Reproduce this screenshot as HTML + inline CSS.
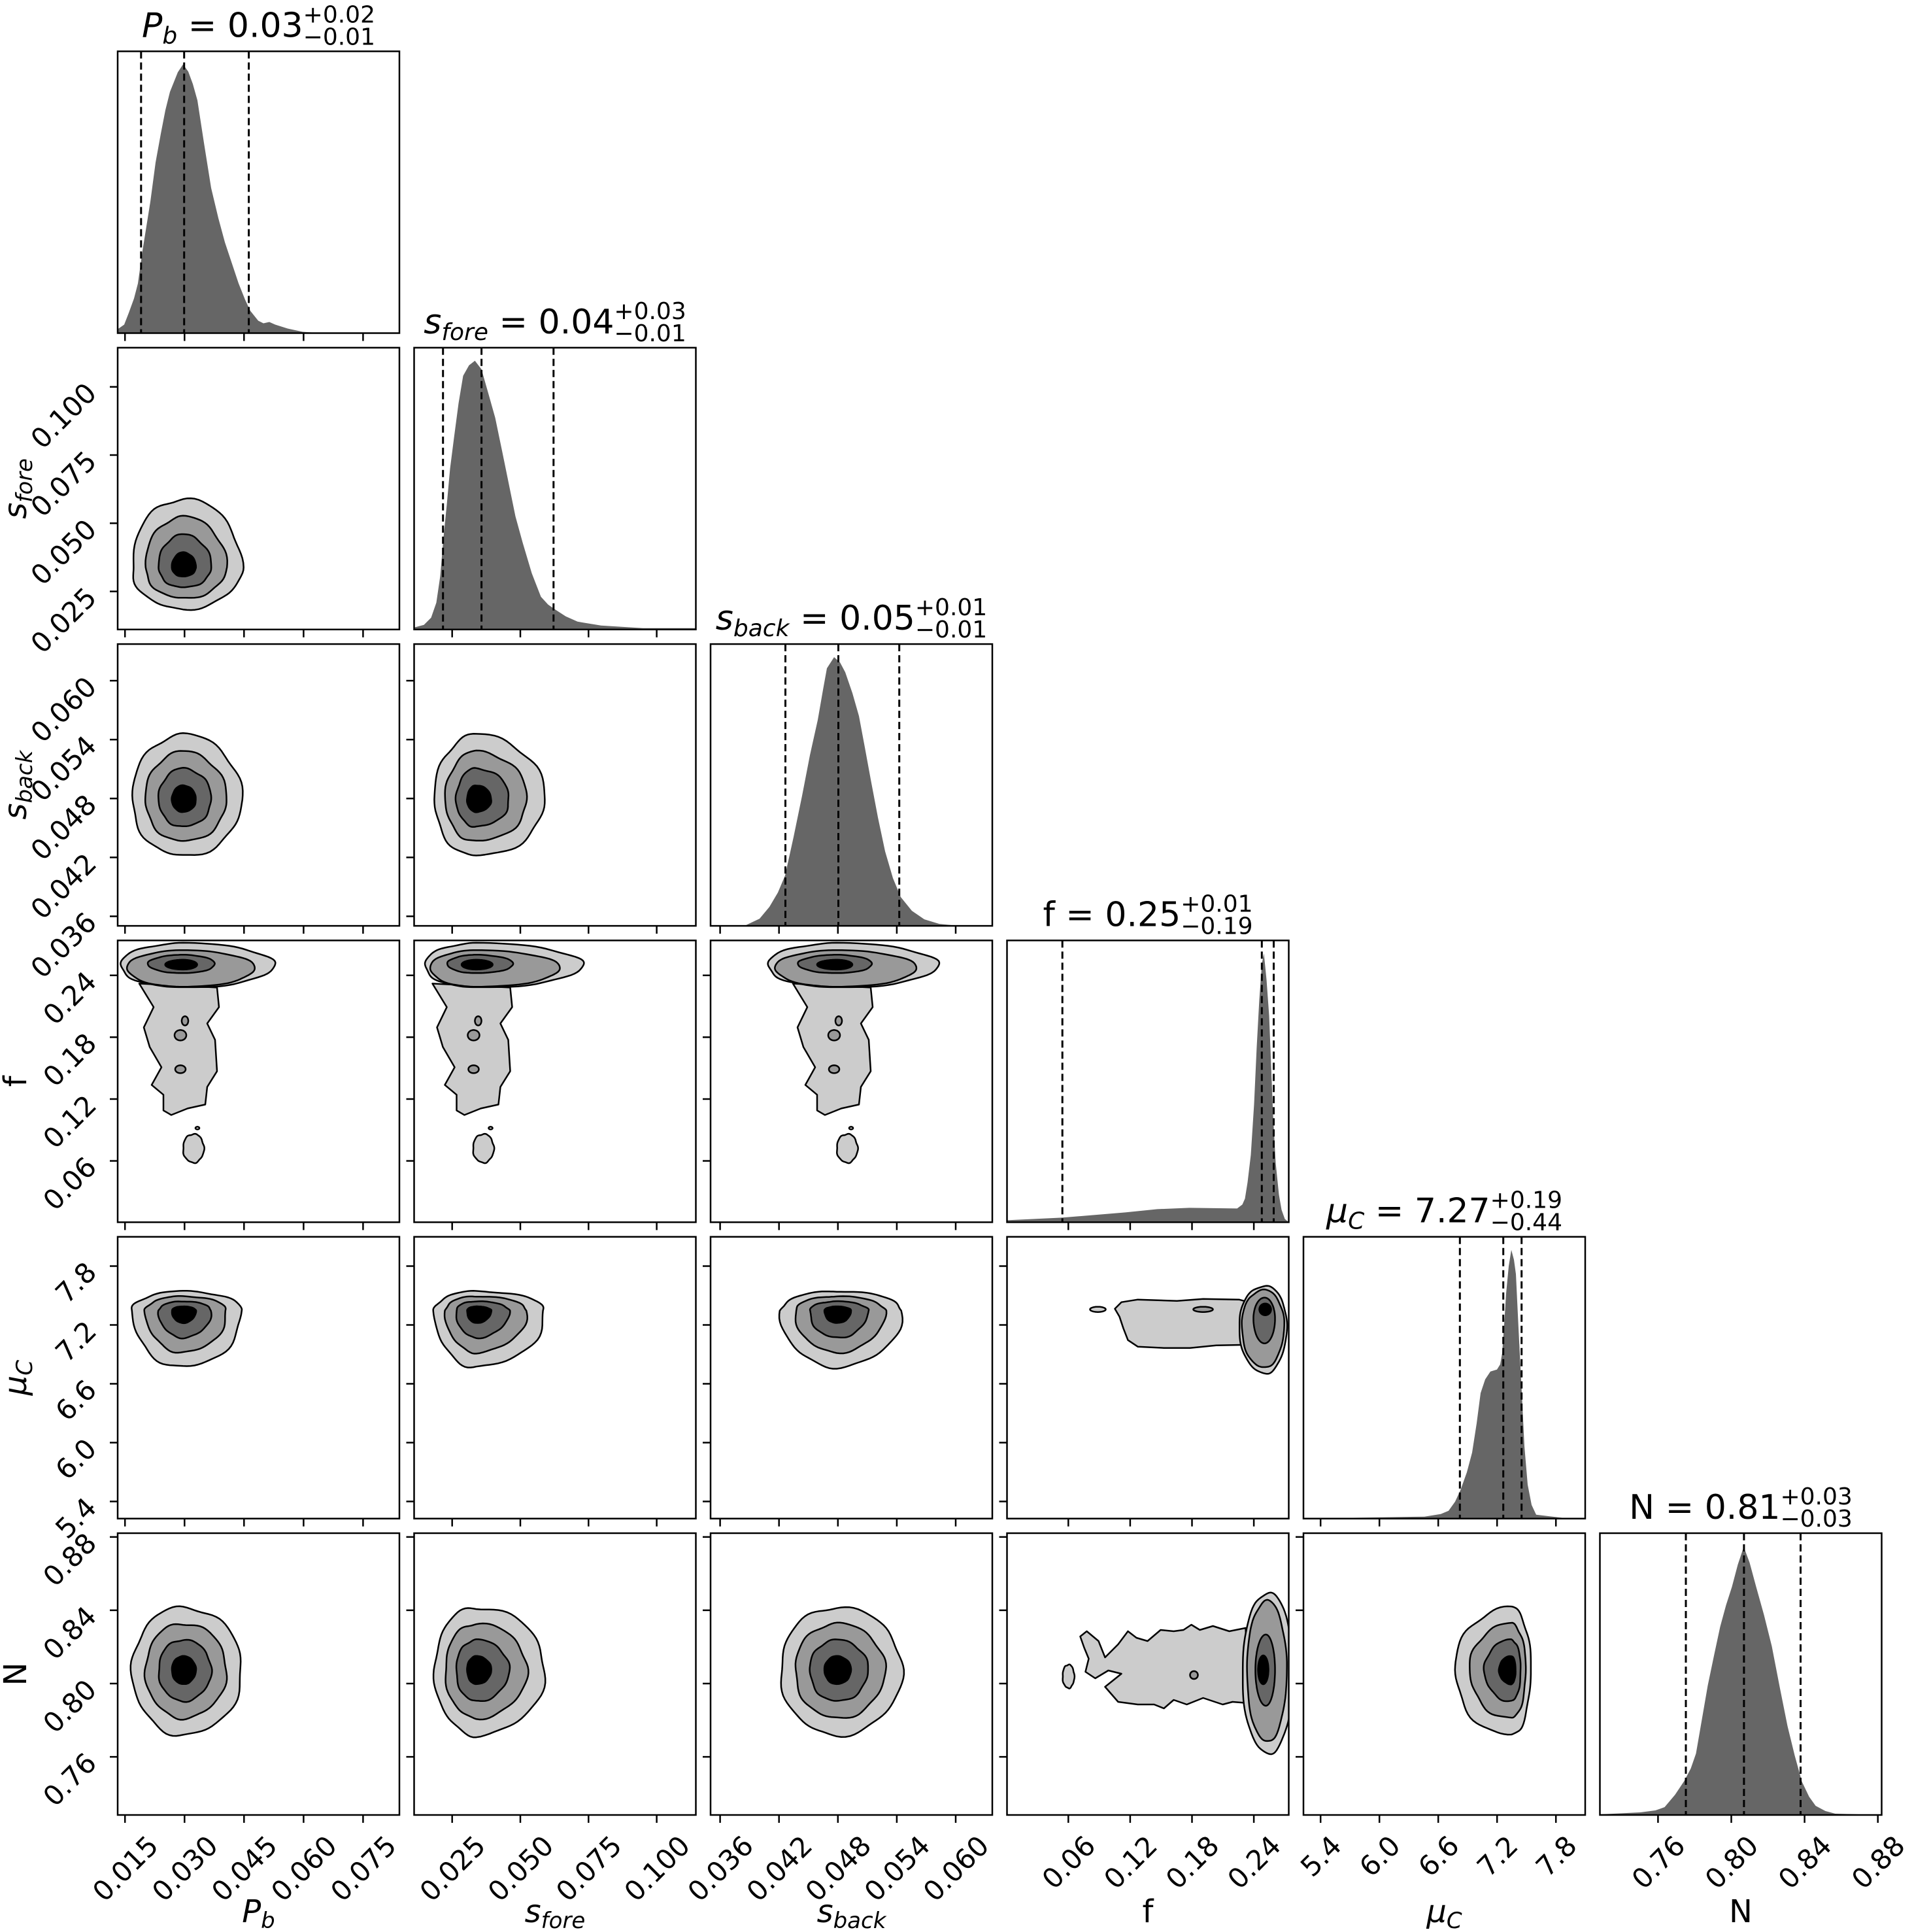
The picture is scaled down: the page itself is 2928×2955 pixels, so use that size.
<!DOCTYPE html>
<html><head><meta charset="utf-8"><style>
html,body{margin:0;padding:0;background:#fff}
svg{display:block}
text{font-family:"DejaVu Sans","Liberation Sans",sans-serif;fill:#000}
.xt,.yt{font-size:42px}
.m{font-size:52px}.sp,.sb{font-size:36px}
.lab{font-size:48px}
</style></head><body>
<svg id="s" xmlns="http://www.w3.org/2000/svg" width="2928" height="2955" viewBox="0 0 2928 2955">
<rect width="2928" height="2955" fill="#fff"/>
<g id="plots"></g>
<g id="texts">
<g class="title" data-c="0"><text class="m"><tspan font-style="italic">P</tspan><tspan font-style="italic" font-size="36" dy="10">b</tspan><tspan dy="-10"> = 0.03</tspan></text><text class="sp">+0.02</text><text class="sb">−0.01</text></g>
<g class="title" data-c="1"><text class="m"><tspan font-style="italic">s</tspan><tspan font-style="italic" font-size="36" dy="10">fore</tspan><tspan dy="-10"> = 0.04</tspan></text><text class="sp">+0.03</text><text class="sb">−0.01</text></g>
<g class="title" data-c="2"><text class="m"><tspan font-style="italic">s</tspan><tspan font-style="italic" font-size="36" dy="10">back</tspan><tspan dy="-10"> = 0.05</tspan></text><text class="sp">+0.01</text><text class="sb">−0.01</text></g>
<g class="title" data-c="3"><text class="m">f = 0.25</text><text class="sp">+0.01</text><text class="sb">−0.19</text></g>
<g class="title" data-c="4"><text class="m"><tspan font-style="italic">μ</tspan><tspan font-style="italic" font-size="36" dy="10">C</tspan><tspan dy="-10"> = 7.27</tspan></text><text class="sp">+0.19</text><text class="sb">−0.44</text></g>
<g class="title" data-c="5"><text class="m">N = 0.81</text><text class="sp">+0.03</text><text class="sb">−0.03</text></g>
<text class="xt" data-c="0" data-k="0">0.015</text><text class="xt" data-c="0" data-k="1">0.030</text><text class="xt" data-c="0" data-k="2">0.045</text><text class="xt" data-c="0" data-k="3">0.060</text><text class="xt" data-c="0" data-k="4">0.075</text>
<text class="xt" data-c="1" data-k="0">0.025</text><text class="xt" data-c="1" data-k="1">0.050</text><text class="xt" data-c="1" data-k="2">0.075</text><text class="xt" data-c="1" data-k="3">0.100</text>
<text class="xt" data-c="2" data-k="0">0.036</text><text class="xt" data-c="2" data-k="1">0.042</text><text class="xt" data-c="2" data-k="2">0.048</text><text class="xt" data-c="2" data-k="3">0.054</text><text class="xt" data-c="2" data-k="4">0.060</text>
<text class="xt" data-c="3" data-k="0">0.06</text><text class="xt" data-c="3" data-k="1">0.12</text><text class="xt" data-c="3" data-k="2">0.18</text><text class="xt" data-c="3" data-k="3">0.24</text>
<text class="xt" data-c="4" data-k="0">5.4</text><text class="xt" data-c="4" data-k="1">6.0</text><text class="xt" data-c="4" data-k="2">6.6</text><text class="xt" data-c="4" data-k="3">7.2</text><text class="xt" data-c="4" data-k="4">7.8</text>
<text class="xt" data-c="5" data-k="0">0.76</text><text class="xt" data-c="5" data-k="1">0.80</text><text class="xt" data-c="5" data-k="2">0.84</text><text class="xt" data-c="5" data-k="3">0.88</text>
<text class="yt" data-c="1" data-k="0">0.025</text><text class="yt" data-c="1" data-k="1">0.050</text><text class="yt" data-c="1" data-k="2">0.075</text><text class="yt" data-c="1" data-k="3">0.100</text>
<text class="yt" data-c="2" data-k="0">0.036</text><text class="yt" data-c="2" data-k="1">0.042</text><text class="yt" data-c="2" data-k="2">0.048</text><text class="yt" data-c="2" data-k="3">0.054</text><text class="yt" data-c="2" data-k="4">0.060</text>
<text class="yt" data-c="3" data-k="0">0.06</text><text class="yt" data-c="3" data-k="1">0.12</text><text class="yt" data-c="3" data-k="2">0.18</text><text class="yt" data-c="3" data-k="3">0.24</text>
<text class="yt" data-c="4" data-k="0">5.4</text><text class="yt" data-c="4" data-k="1">6.0</text><text class="yt" data-c="4" data-k="2">6.6</text><text class="yt" data-c="4" data-k="3">7.2</text><text class="yt" data-c="4" data-k="4">7.8</text>
<text class="yt" data-c="5" data-k="0">0.76</text><text class="yt" data-c="5" data-k="1">0.80</text><text class="yt" data-c="5" data-k="2">0.84</text><text class="yt" data-c="5" data-k="3">0.88</text>
<text class="lab xl" data-c="0" text-anchor="middle"><tspan font-style="italic">P</tspan><tspan font-style="italic" font-size="34" dy="9">b</tspan></text>
<text class="lab xl" data-c="1" text-anchor="middle"><tspan font-style="italic">s</tspan><tspan font-style="italic" font-size="34" dy="9">fore</tspan></text>
<text class="lab xl" data-c="2" text-anchor="middle"><tspan font-style="italic">s</tspan><tspan font-style="italic" font-size="34" dy="9">back</tspan></text>
<text class="lab xl" data-c="3" text-anchor="middle">f</text>
<text class="lab xl" data-c="4" text-anchor="middle"><tspan font-style="italic">μ</tspan><tspan font-style="italic" font-size="34" dy="9">C</tspan></text>
<text class="lab xl" data-c="5" text-anchor="middle">N</text>
<text class="lab yl" data-c="1" text-anchor="middle"><tspan font-style="italic">s</tspan><tspan font-style="italic" font-size="34" dy="9">fore</tspan></text>
<text class="lab yl" data-c="2" text-anchor="middle"><tspan font-style="italic">s</tspan><tspan font-style="italic" font-size="34" dy="9">back</tspan></text>
<text class="lab yl" data-c="3" text-anchor="middle">f</text>
<text class="lab yl" data-c="4" text-anchor="middle"><tspan font-style="italic">μ</tspan><tspan font-style="italic" font-size="34" dy="9">C</tspan></text>
<text class="lab yl" data-c="5" text-anchor="middle">N</text>
</g>
</svg>
<script>
(function(){
var NS="http://www.w3.org/2000/svg",W=431;
function L(i){return 180+453.5*i;}function T(j){return 78.5+453.3*j;}
var V=[
{c:100,lo:22,hi:190,t:[11.2,102.3,193.3,284.4,375.4]},
{c:95,lo:31,hi:200,t:[58.2,162.5,266.8,371.1]},
{c:193,lo:107,hi:293,t:[14.6,104.7,194.8,284.9,375]},
{c:392,lo:360,hi:431,t:[93.8,188.4,283,377.6]},
{c:318,lo:232,hi:348,t:[26.2,116.2,206.2,296.2,386.2]},
{c:222,lo:122,hi:318,t:[88.9,201,313.1,425.2]}];
var H=[
{p:[[0,425],[10,418],[17,400],[25,378],[31,355],[38,305],[50,230],[58,170],[66,126],[73,90],[80,62],[92,32],[100,20],[108,31],[115,50],[122,75],[132,140],[143,209],[154,255],[164,292],[175,325],[185,355],[195,380],[203,397],[215,412],[223,416],[232,414],[241,418],[260,424],[283,429],[311,431]],d:[35.8,101.7,200.6]},
{p:[[0,428],[15,424],[26,413],[34,390],[40,349],[45,290],[50,240],[55,185],[61,138],[68,85],[75,43],[84,27],[93,20],[103,33],[113,68],[124,107],[135,160],[145,209],[155,258],[166,298],[180,345],[194,381],[205,393],[215,400],[232,411],[250,419],[286,425],[350,429],[431,429]],d:[44.2,103.1,213.3]},
{p:[[0,431],[54,430],[75,420],[90,402],[103,380],[114,354],[127,295],[140,232],[152,170],[164,116],[172,70],[178,37],[189,20],[198,28],[206,43],[217,75],[227,110],[236,158],[245,207],[256,265],[267,317],[279,358],[291,387],[308,408],[327,421],[350,428],[370,430],[431,431]],d:[114.5,195.5,288.7]},
{p:[[0,428],[84,424],[181,416],[230,411],[279,409],[352,410],[360,404],[364,395],[368,370],[373,328],[378,250],[382,163],[386,90],[390,35],[393,20],[397,60],[401,115],[404,190],[407,267],[411,340],[416,389],[420,412],[425,426],[431,431]],d:[84.7,389.8,408]},
{p:[[0,431],[185,428],[210,424],[222,419],[232,405],[240,388],[250,360],[258,330],[265,285],[271,239],[278,218],[286,206],[296,203],[301,195],[304,178],[307,135],[310,87],[314,45],[318,20],[322,35],[325,57],[329,140],[334,239],[338,320],[343,379],[349,410],[356,425],[398,430],[431,431]],d:[239.3,305.7,333.7]},
{p:[[0,430],[62,427],[85,424],[99,419],[115,400],[129,379],[139,360],[147,337],[156,285],[165,233],[175,185],[184,143],[193,110],[202,82],[211,48],[220,21],[229,45],[239,82],[251,125],[263,173],[275,235],[287,295],[298,340],[309,380],[320,403],[330,417],[345,425],[360,429],[431,431]],d:[131.5,220.4,307]}];
var root=document.getElementById('plots'),defs=document.createElementNS(NS,'defs');root.appendChild(defs);
function el(t,a,p){var e=document.createElementNS(NS,t);for(var k in a)e.setAttribute(k,a[k]);(p||root).appendChild(e);return e;}
function pts(a){return 'M'+a.map(function(q){return q[0].toFixed(1)+','+q[1].toFixed(1);}).join('L')+'Z';}
function blob(cx,cy,rl,rr,rt,rb,amp,seed){var a=[];for(var k=0;k<96;k++){var th=k/96*2*Math.PI,c=Math.cos(th),s=Math.sin(th);var w=1+amp*(Math.sin(5*th+seed)*0.6+Math.sin(9*th+seed*2)*0.4);a.push([cx+(c>=0?rr:rl)*c*w,cy+(s<0?rt:rb)*s*w]);}return pts(a);}
var COL=['#cccccc','#999999','#666666','#000000'],SC=[1,0.74,0.48,0.22];
function shape(g,d,f){el('path',{d:d,fill:f,stroke:'#000','stroke-width':2.5,'stroke-linejoin':'round'},g);}
var cid=0;
for(var j=0;j<6;j++)for(var i=0;i<=j;i++){
 var x0=L(i),y0=T(j);cid++;
 var cp=el('clipPath',{id:'c'+cid},defs);el('rect',{x:0,y:0,width:W,height:W},cp);
 var G=el('g',{transform:'translate('+x0+','+y0+')'});
 var g=el('g',{'clip-path':'url(#c'+cid+')'},G);
 if(i==j){var h=H[i];el('path',{d:pts(h.p.concat([[431,431],[0,431]])),fill:'#666666'},g);
  h.d.forEach(function(x){el('line',{x1:x,y1:0,x2:x,y2:W,stroke:'#000','stroke-width':3,'stroke-dasharray':'11,6'},g);});}
 else if(j==3){var X=V[i],cx=X.c,dx=cx-100,sl=X.c-X.lo,sr=X.hi-X.c;
  var tail=[[33,66],[55,102],[40,133],[49,163],[67,194],[52,221],[70,236],[70,260],[82,267],[107,257],[134,251],[137,224],[152,200],[149,152],[137,127],[155,102],[152,72]].map(function(q){return [q[0]+dx,q[1]];});
  shape(g,pts(tail),COL[0]);
  shape(g,blob(cx+(i==1?-5:0)+16,318,16,16,22,22,0.05,1),COL[0]);
  shape(g,blob(cx+3,123,5,5,7,7,0,0),COL[1]);shape(g,blob(cx-4,145,9,9,8,8,0,0),COL[1]);shape(g,blob(cx-4,197,8,8,6,6,0,0),COL[1]);
  shape(g,blob(cx+22,287,3,3,2,2,0,0),'#fff');
  shape(g,blob(cx,38,sl*1.23,sr*1.55,34,34,0.03,2),COL[0]);
  shape(g,blob(cx,42,sl*1.1,sr*1.22,27,29,0.02,3),COL[1]);
  shape(g,blob(cx,36,sl*0.69,sr*0.54,14,14,0.02,4),COL[2]);
  shape(g,blob(cx,37,sl*0.35,sr*0.24,7.5,7.5,0,0),COL[3]);}
 else if(i==3&&j==4){
  shape(g,pts([[165,110],[175,100],[200,96],[260,98],[300,95],[355,96],[370,100],[372,165],[320,166],[280,170],[240,170],[200,168],[185,158],[178,140],[172,122]]),COL[0]);
  shape(g,blob(139,111,12,12,4,4,0,0),COL[0]);shape(g,blob(300,111,15,15,4,4,0,0),COL[1]);
  shape(g,blob(395,135,40,33,60,74,0.02,1),COL[0]);shape(g,blob(393,135,34,31,54,65,0.02,2),COL[1]);
  shape(g,blob(394,125,17,16,32,38,0,0),COL[2]);shape(g,blob(395,111,9,9,9,9,0,0),COL[3]);}
 else if(i==3&&j==5){
  shape(g,pts([[112,158],[122,150],[140,165],[150,190],[170,170],[185,150],[198,160],[215,165],[235,148],[255,150],[270,148],[282,140],[295,148],[315,142],[340,150],[365,145],[370,260],[345,258],[330,262],[300,252],[275,262],[255,255],[240,268],[225,262],[200,262],[170,258],[150,235],[175,215],[155,210],[135,222],[120,212],[125,192],[118,175]]),COL[0]);
  shape(g,blob(94,219,9,9,18,18,0.05,1),COL[0]);shape(g,blob(286,217,6,6,6,6,0,0),COL[1]);
  shape(g,blob(400,214,40,38,123,123,0.02,1),COL[0]);shape(g,blob(398,211,31,30,108,108,0.02,2),COL[1]);
  shape(g,blob(396,209,16,14,54,55,0,0),COL[2]);shape(g,blob(392,209,8,8,22,22,0,0),COL[3]);}
 else {var X=V[i],Y=V[j],cx=X.c,cy=W-Y.c,rl=X.c-X.lo,rr=X.hi-X.c,rt=Y.hi-Y.c,rb=Y.c-Y.lo;
  for(var k=0;k<4;k++){var s=SC[k];shape(g,blob(cx,cy,rl*s,rr*s,rt*s,rb*s,k<3?0.035:0.02,i+j+k),COL[k]);}}
 el('rect',{x:0,y:0,width:W,height:W,fill:'none',stroke:'#000','stroke-width':2.5},G);
 V[i].t.forEach(function(t){el('line',{x1:t,y1:W,x2:t,y2:W+12,stroke:'#000','stroke-width':2.5},G);});
 if(i<j)V[j].t.forEach(function(t){el('line',{x1:-12,y1:W-t,x2:0,y2:W-t,stroke:'#000','stroke-width':2.5},G);});
}
var hh=0.73*42,bot=T(5)+W;
document.querySelectorAll('.xt').forEach(function(e){var c=+e.dataset.c,k=+e.dataset.k,x=L(c)+V[c].t[k];var l=e.getComputedTextLength();var ex=x+0.354*(l+hh),ey=bot+28+0.707*hh;e.setAttribute('x',ex);e.setAttribute('y',ey);e.setAttribute('text-anchor','end');e.setAttribute('transform','rotate(-45 '+ex+' '+ey+')');});
document.querySelectorAll('.yt').forEach(function(e){var c=+e.dataset.c,k=+e.dataset.k,y=T(c)+W-V[c].t[k];var ex=L(0)-30,ey=y+12;e.setAttribute('x',ex);e.setAttribute('y',ey);e.setAttribute('text-anchor','end');e.setAttribute('transform','rotate(-45 '+ex+' '+ey+')');});
document.querySelectorAll('.title').forEach(function(g){var c=+g.dataset.c,m=g.querySelector('.m'),sp=g.querySelector('.sp'),sb=g.querySelector('.sb');var mw=m.getComputedTextLength(),sw=Math.max(sp.getComputedTextLength(),sb.getComputedTextLength());var cx=L(c)+W/2,x=cx-(mw+sw)/2,by=T(c)-22;m.setAttribute('x',x);m.setAttribute('y',by);sp.setAttribute('x',x+mw);sp.setAttribute('y',by-22);sb.setAttribute('x',x+mw);sb.setAttribute('y',by+12);});
document.querySelectorAll('.xl').forEach(function(e){var c=+e.dataset.c;e.setAttribute('x',L(c)+W/2);e.setAttribute('y',2940);});
document.querySelectorAll('.yl').forEach(function(e){var c=+e.dataset.c,x=40,y=T(c)+W/2;e.setAttribute('x',x);e.setAttribute('y',y);e.setAttribute('transform','rotate(-90 '+x+' '+y+')');});
})();
</script>
</body></html>
